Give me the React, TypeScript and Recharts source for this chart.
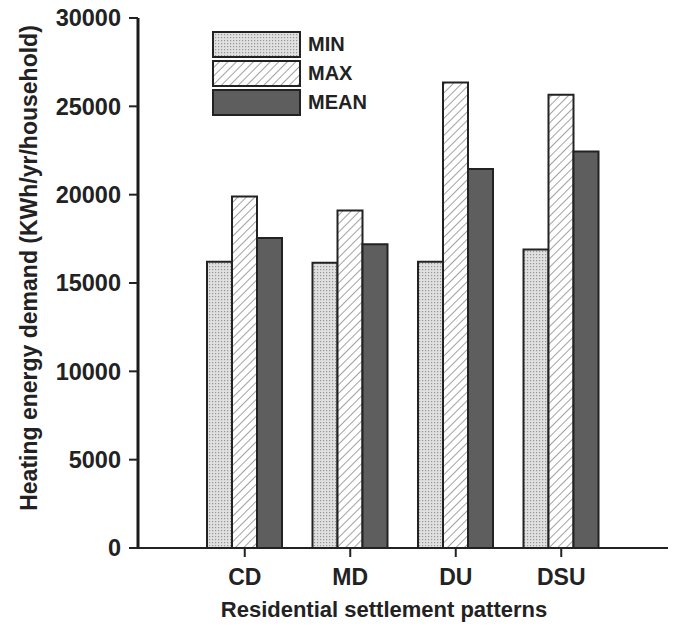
import React from 'react';
import { BarChart, Bar, XAxis, YAxis, Legend } from 'recharts';

const categories = ['CD', 'MD', 'DU', 'DSU'];
const minValues = [16200, 16150, 16200, 16900];
const maxValues = [19900, 19100, 26350, 25650];
const meanValues = [17550, 17200, 21450, 22450];
const yTicks = [0, 5000, 10000, 15000, 20000, 25000, 30000];

const series = [
  { key: 'min', name: 'MIN', fill: 'url(#dotsPat)' },
  { key: 'max', name: 'MAX', fill: 'url(#hatchPat)' },
  { key: 'mean', name: 'MEAN', fill: '#5e5e5e' },
];

const data = categories.map((c, i) => ({
  name: c,
  min: minValues[i],
  max: maxValues[i],
  mean: meanValues[i],
}));

const FONT = '"Liberation Sans", Arial, Helvetica, sans-serif';
const INK = '#222';

const renderLegend = () => (
  <div style={{ fontFamily: FONT }}>
    {series.map((s) => (
      <div key={s.key} style={{ display: 'flex', alignItems: 'center', height: 29 }}>
        <svg width={89} height={27} style={{ display: 'block' }}>
          <rect x={1} y={1} width={87} height={25} fill={s.fill} stroke={INK} strokeWidth={2} />
        </svg>
        <span style={{ marginLeft: 7, fontSize: 20, fontWeight: 'bold', color: INK }}>{s.name}</span>
      </div>
    ))}
  </div>
);

const YTitle = (props: any) => {
  const { x, y, height } = props.viewBox;
  return (
    <text
      transform={`translate(${x + 21}, ${y + height / 2 - 15}) rotate(-90)`}
      textAnchor="middle"
      dy="0.35em"
      fontFamily={FONT}
      fontSize={23}
      fontWeight="bold"
      fill={INK}
    >
      Heating energy demand (KWh/yr/household)
    </text>
  );
};

const XTitle = (props: any) => {
  const { x, y, width } = props.viewBox;
  return (
    <text
      x={x + width / 2 - 20}
      y={y + 61}
      textAnchor="middle"
      dy="0.35em"
      fontFamily={FONT}
      fontSize={22}
      fontWeight="bold"
      fill={INK}
    >
      Residential settlement patterns
    </text>
  );
};

export default function App() {
  return (
    <div style={{ background: '#fff', width: 668, height: 626, marginTop: -6 }}>
      <BarChart
        width={668}
        height={626}
        data={data}
        margin={{ top: 16, right: 6, bottom: 0, left: 0 }}
        barGap={0}
        barSize={25}
      >
        <defs>
          <pattern id="dotsPat" width={3} height={3} patternUnits="userSpaceOnUse">
            <rect width={3} height={3} fill="#e0e0e0" />
            <rect width={1.2} height={1.2} fill="#959595" />
          </pattern>
          <pattern id="hatchPat" width={6} height={6} patternUnits="userSpaceOnUse" patternTransform="rotate(45)">
            <rect width={6} height={6} fill="#ffffff" />
            <line x1={0} y1={0} x2={0} y2={6} stroke="#8a8a8a" strokeWidth={1.6} />
          </pattern>
        </defs>
        <YAxis
          width={130}
          domain={[0, 30000]}
          ticks={yTicks}
          interval={0}
          tickSize={9}
          tickMargin={8}
          axisLine={{ stroke: '#1a1a1a', strokeWidth: 3 }}
          tickLine={{ stroke: INK, strokeWidth: 2 }}
          tick={{ fontFamily: FONT, fontSize: 23.5, fontWeight: 'bold', fill: INK }}
          label={<YTitle />}
        />
        <XAxis
          dataKey="name"
          padding={{ left: 54, right: 56 }}
          height={80}
          tickSize={9}
          tickMargin={12}
          axisLine={{ stroke: INK, strokeWidth: 2 }}
          tickLine={{ stroke: INK, strokeWidth: 2 }}
          tick={{ fontFamily: FONT, fontSize: 23, fontWeight: 'bold', fill: INK }}
          label={<XTitle />}
        />
        <Legend
          layout="horizontal"
          verticalAlign="middle"
          content={renderLegend}
          wrapperStyle={{ position: 'absolute', left: 204, top: 28, width: 'auto', height: 'auto' }}
        />
        {series.map((s) => (
          <Bar
            key={s.key}
            dataKey={s.key}
            name={s.name}
            fill={s.fill}
            stroke={INK}
            strokeWidth={2}
            isAnimationActive={false}
          />
        ))}
      </BarChart>
    </div>
  );
}
